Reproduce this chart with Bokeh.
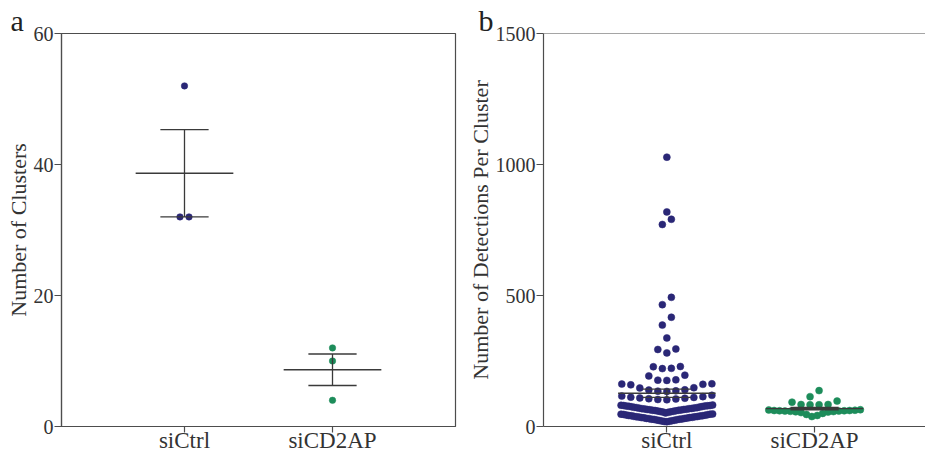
import numpy as np
from bokeh.plotting import figure
from bokeh.layouts import row
from bokeh.models import Range1d, FixedTicker, Span, Title
from bokeh.embed import file_html
from bokeh.resources import INLINE

# ---------------- data ----------------
groups = ["siCtrl", "siCD2AP"]
a_ticks = [0, 20, 40, 60]
b_ticks = [0, 500, 1000, 1500]

# panel a: number of clusters per cell
a_ctrl = [52, 32, 32]
a_cd2ap = [12, 10, 4]

# panel b: number of detections per cluster
b_ctrl = [18, 19, 20, 21, 22, 23, 24, 25, 26, 27, 28, 28, 29, 30, 31, 31, 32, 33, 34, 34,
          35, 36, 37, 37, 38, 39, 40, 41, 41, 42, 43, 44, 45, 46, 47, 47, 48,
          52, 54, 55, 56, 57, 58, 59, 60, 61, 62, 62, 63, 64, 65, 65, 66, 67, 68, 68, 69,
          70, 71, 72, 72, 73, 74, 75, 76, 77, 78, 78, 79, 80, 80, 81, 82,
          102, 103, 105, 106, 108, 109, 111, 112, 114, 116, 119,
          134, 135, 136, 139, 140, 147, 148, 159, 161, 162, 163,
          176, 177, 178, 193, 196,
          221, 222, 228, 229,
          281, 294, 296,
          338, 387, 417, 465, 493, 771, 791, 819, 1028]
b_cd2ap = [38, 42, 46, 50, 53, 55, 56, 57, 58, 59, 59, 60, 60, 61, 61, 62, 63, 64,
           83, 83, 84, 84, 93, 97, 114, 137]

NAVY = "#2a2776"
GREEN = "#1d8c5a"
AXC = "#4d4d4d"
TXC = "#333333"
FONT = "Liberation Serif"


def swarm(vals, h, step, wmax):
    rows = []
    for v in sorted(vals):
        if rows and v - rows[-1][0] <= h:
            rows[-1].append(v)
        else:
            rows.append([v])
    xs, ys = [], []
    for r in rows:
        n = len(r)
        s = step
        if n > 1 and (n - 1) / 2 * s > wmax:
            s = 2 * wmax / (n - 1)
        for i, v in enumerate(r):
            if n % 2:
                k = ((i + 1) // 2) * (-1 if i % 2 else 1)
            else:
                k = (i // 2 + 0.5) * (-1 if i % 2 == 0 else 1)
            xs.append(k * s)
            ys.append(v)
    return np.array(xs), np.array(ys)


def style(p, ticks, label, letter, letter_offset):
    p.grid.visible = False
    p.background_fill_color = "white"
    p.border_fill_color = "white"
    for ax in (p.xaxis[0], p.yaxis[0]):
        ax.axis_line_color = AXC
        ax.axis_line_width = 1.2
        ax.major_tick_line_color = AXC
        ax.major_tick_line_width = 1.2
        ax.minor_tick_line_color = None
        ax.major_tick_in = 0
        ax.major_label_text_font = FONT
        ax.major_label_text_color = TXC
    p.yaxis.ticker = FixedTicker(ticks=ticks)
    p.yaxis.major_tick_out = 7
    p.yaxis.major_label_standoff = 1
    p.yaxis.major_label_text_font_size = "20px"
    p.yaxis.axis_label = label
    p.yaxis.axis_label_text_font = FONT
    p.yaxis.axis_label_text_font_size = "22px"
    p.yaxis.axis_label_text_font_style = "normal"
    p.yaxis.axis_label_text_color = TXC
    p.yaxis.axis_label_standoff = 0
    p.xaxis.ticker = FixedTicker(ticks=[i + 1 for i in range(len(groups))])
    p.xaxis.major_label_overrides = {i + 1: g for i, g in enumerate(groups)}
    p.xaxis.major_tick_out = 6
    p.xaxis.major_label_text_font_size = "23px"
    p.xaxis.major_label_standoff = -5
    t = Title(text=letter, align="left", offset=letter_offset, standoff=-6,
              text_font=FONT, text_font_size="30px", text_font_style="normal",
              text_color="#222222")
    p.add_layout(t, "above")


def group_marks(p, vals, pos, color, h, size):
    dx, ys = swarm(vals, h, 0.061, 0.31)
    p.scatter(pos + dx, ys, size=size, fill_color=color, line_color=color, line_width=0.5)
    arr = np.array(vals, dtype=float)
    m = arr.mean()
    se = arr.std(ddof=1) / np.sqrt(len(arr))
    p.segment(x0=[pos - 0.33], x1=[pos + 0.33], y0=[m], y1=[m], line_color="#3a3a3a", line_width=1.3)
    p.segment(x0=[pos], x1=[pos], y0=[m - se], y1=[m + se], line_color="#3a3a3a", line_width=1.3)
    p.segment(x0=[pos - 0.163, pos - 0.163], x1=[pos + 0.163, pos + 0.163],
              y0=[m - se, m + se], y1=[m - se, m + se], line_color="#3a3a3a", line_width=1.3)


# ---------------- panel a ----------------
pa = figure(width=460, height=455, x_range=Range1d(0.169, 2.831),
            y_range=Range1d(a_ticks[0], a_ticks[-1]),
            output_backend="svg", toolbar_location=None,
            min_border_left=61, min_border_right=5, min_border_top=33, min_border_bottom=29)
style(pa, a_ticks, "Number of Clusters", "a", -51)
pa.outline_line_color = AXC
pa.outline_line_width = 1.2
group_marks(pa, a_ctrl, 1, NAVY, 1.0, 6.5)
group_marks(pa, a_cd2ap, 2, GREEN, 1.0, 6.5)

# ---------------- panel b ----------------
pb = figure(width=465, height=455, x_range=Range1d(0.165, 2.751),
            y_range=Range1d(b_ticks[0], b_ticks[-1]),
            output_backend="svg", toolbar_location=None,
            min_border_left=83, min_border_right=0, min_border_top=33, min_border_bottom=29)
style(pb, b_ticks, "Number of Detections Per Cluster", "b", -65)
pb.outline_line_color = None
pb.add_layout(Span(location=b_ticks[-1], dimension="width", line_color=AXC, line_width=1.2))
group_marks(pb, b_ctrl, 1, NAVY, 30, 7)
group_marks(pb, b_cd2ap, 2, GREEN, 30, 7)

layout = row(pa, pb)
open("out.html", "w").write(file_html(layout, INLINE))
